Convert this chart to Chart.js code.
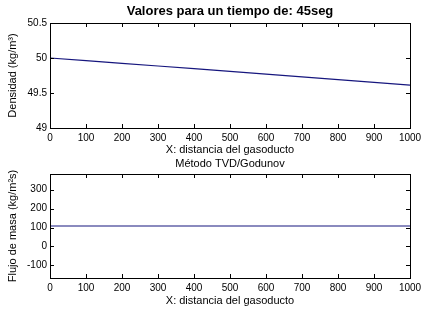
<!DOCTYPE html>
<html>
<head>
<meta charset="utf-8">
<script src="https://cdn.jsdelivr.net/npm/chart.js@4/dist/chart.umd.min.js"></script>
<style>
    body { margin: 0; background: #fff; }
    canvas { position: absolute; left: 0; }
    #densidadChart { top: 0; }
    #flujoChart { top: 157px; }
</style>
</head>
<body>
<canvas id="densidadChart" width="433" height="157"></canvas>
<canvas id="flujoChart" width="433" height="169"></canvas>
<script>
    // x positions along the pipeline
    var xDist = [0, 100, 200, 300, 400, 500, 600, 700, 800, 900, 1000];
    // density at t = 45 s
    var densidad = [50.00, 49.962, 49.924, 49.886, 49.848, 49.809, 49.770, 49.731, 49.691, 49.651, 49.612];
    // mass flux at t = 45 s
    var flujo = [108, 108, 108, 108, 108, 108, 108, 108, 108, 108, 108];

    var xTicks = [0, 100, 200, 300, 400, 500, 600, 700, 800, 900, 1000];
    var yTicksDensidad = [49, 49.5, 50, 50.5];
    var yTicksFlujo = [-100, 0, 100, 200, 300];

    Chart.defaults.font.family = '"Liberation Sans", Arial, sans-serif';
    Chart.defaults.color = '#000';

    /**
     * Draws the box round the plot area and the inward tick marks on all four sides
     */
    var matlabFrame = {
        id: 'matlabFrame',
        afterDraw: function (chart) {
            var ctx = chart.ctx;
            var a = chart.chartArea;
            var len = 4;
            ctx.save();
            ctx.strokeStyle = '#000';
            ctx.lineWidth = 1;
            ctx.beginPath();
            chart.scales.x.ticks.forEach(function (t) {
                var px = Math.round(chart.scales.x.getPixelForValue(t.value)) + 0.5;
                ctx.moveTo(px, a.bottom);
                ctx.lineTo(px, a.bottom - len);
                ctx.moveTo(px, a.top);
                ctx.lineTo(px, a.top + len);
            });
            chart.scales.y.ticks.forEach(function (t) {
                var py = Math.round(chart.scales.y.getPixelForValue(t.value)) + 0.5;
                ctx.moveTo(a.left, py);
                ctx.lineTo(a.left + len, py);
                ctx.moveTo(a.right, py);
                ctx.lineTo(a.right - len, py);
            });
            ctx.stroke();
            ctx.strokeRect(Math.round(a.left) + 0.5, Math.round(a.top) + 0.5,
                Math.round(a.right - a.left), Math.round(a.bottom - a.top));
            ctx.restore();
        }
    };

    function toPoints(xs, ys) {
        return xs.map(function (x, i) { return {x: x, y: ys[i]}; });
    }

    function setTicks(list) {
        return function (scale) {
            scale.ticks = list.map(function (v) { return {value: v}; });
        };
    }

    function buildConfig(opts) {
        return {
            type: 'line',
            data: {
                datasets: [{
                    data: toPoints(xDist, opts.values),
                    borderColor: '#16167e',
                    borderWidth: 1.2,
                    pointRadius: 0,
                    fill: false
                }]
            },
            options: {
                responsive: false,
                animation: false,
                events: [],
                layout: {padding: {left: 0, right: 23, top: 0, bottom: 0}},
                plugins: {
                    legend: {display: false},
                    tooltip: {enabled: false},
                    title: {
                        display: true,
                        fullSize: false,
                        text: opts.title,
                        font: opts.titleFont,
                        padding: opts.titlePadding
                    }
                },
                scales: {
                    x: {
                        type: 'linear',
                        min: 0,
                        max: 1000,
                        afterBuildTicks: setTicks(xTicks),
                        afterFit: function (scale) { scale.height = opts.xHeight; },
                        grid: {display: false, drawTicks: false},
                        border: {display: false},
                        ticks: {padding: 4, font: {size: 10}, callback: function (v) { return String(v); }},
                        title: {
                            display: true,
                            text: 'X: distancia del gasoducto',
                            font: {size: 11},
                            padding: {top: 0, bottom: opts.xTitlePad}
                        }
                    },
                    y: {
                        type: 'linear',
                        min: opts.yMin,
                        max: opts.yMax,
                        afterBuildTicks: setTicks(opts.yTicks),
                        afterFit: function (scale) { scale.width = 50; },
                        grid: {display: false, drawTicks: false},
                        border: {display: false},
                        ticks: {padding: 3, font: {size: 10}, callback: function (v) { return String(v); }},
                        title: {
                            display: true,
                            text: opts.yTitle,
                            font: {size: 11},
                            padding: {top: 6.4, bottom: 0}
                        }
                    }
                }
            },
            plugins: [matlabFrame]
        };
    }

    new Chart(document.getElementById('densidadChart').getContext('2d'), buildConfig({
        values: densidad,
        title: 'Valores para un tiempo de: 45seg',
        titleFont: {size: 13, weight: 'bold'},
        titlePadding: {top: 3.5, bottom: 3.9},
        xHeight: 29,
        xTitlePad: 0.4,
        yMin: 49,
        yMax: 50.5,
        yTicks: yTicksDensidad,
        yTitle: 'Densidad (kg/m³)'
    }));

    new Chart(document.getElementById('flujoChart').getContext('2d'), buildConfig({
        values: flujo,
        title: 'Método TVD/Godunov',
        titleFont: {size: 11, weight: 'normal'},
        titlePadding: {top: 0.8, bottom: 3},
        xHeight: 48,
        xTitlePad: 18.7,
        yMin: -167,
        yMax: 383,
        yTicks: yTicksFlujo,
        yTitle: 'Flujo de masa (kg/m²s)'
    }));
</script>
</body>
</html>
